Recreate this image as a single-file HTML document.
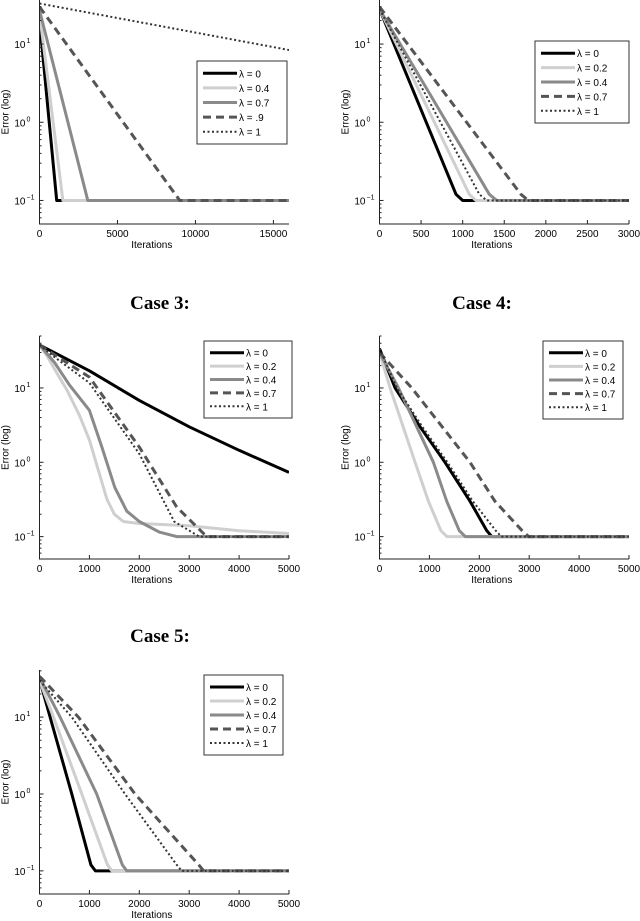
<!DOCTYPE html>
<html><head><meta charset="utf-8"><style>
body{margin:0;background:#fff;width:640px;height:921px;overflow:hidden}
svg{display:block}
text{font-family:"Liberation Sans",sans-serif;fill:#000}
.title{font-family:"Liberation Serif",serif;font-weight:bold;font-size:19px}
</style></head><body>
<svg id="chart" width="640" height="921" viewBox="0 0 640 921" xmlns="http://www.w3.org/2000/svg">
<text class="title" x="160" y="309" text-anchor="middle">Case 3:</text>
<text class="title" x="482" y="309" text-anchor="middle">Case 4:</text>
<text class="title" x="160" y="642" text-anchor="middle">Case 5:</text>
</svg>
<script>
// ---- Case 1 data ----
const c1_labels = ["λ = 0","λ = 0.4","λ = 0.7","λ = .9","λ = 1"];
const c1_x0=[0,1100,16000], c1_y0=[20,0.1,0.1];
const c1_x1=[0,1500,16000], c1_y1=[25,0.1,0.1];
const c1_x2=[0,3100,16000], c1_y2=[27,0.1,0.1];
const c1_x3=[0,9000,16000], c1_y3=[30,0.1,0.1];
const c1_x4=[0,16000], c1_y4=[33,8.4];
const c1_xticks=[0,5000,10000,15000];
// ---- Case 2 data ----
const c2_labels = ["λ = 0","λ = 0.2","λ = 0.4","λ = 0.7","λ = 1"];
const c2_x0=[0,920,1000,3000], c2_y0=[28,0.12,0.1,0.1];
const c2_x1=[0,1080,1160,3000], c2_y1=[28,0.12,0.1,0.1];
const c2_x2=[0,1320,1410,3000], c2_y2=[28,0.12,0.1,0.1];
const c2_x3=[0,1700,1790,3000], c2_y3=[30,0.12,0.1,0.1];
const c2_x4=[0,1200,1290,3000], c2_y4=[28,0.12,0.1,0.1];
const c2_xticks=[0,500,1000,1500,2000,2500,3000];
// ---- Case 3 data ----
const c3_labels = c2_labels;
const c3_x0=[0,1000,2000,3000,4000,5000], c3_y0=[38,17,6.8,3.0,1.45,0.73];
const c3_x1=[0,150,300,550,800,1000,1200,1350,1500,1680,2000,3000,4000,5000], c3_y1=[38,27,18,9.4,4.3,2.0,0.7,0.32,0.2,0.16,0.15,0.14,0.12,0.11];
const c3_x2=[0,300,600,1000,1250,1510,1750,2000,2400,2750,5000], c3_y2=[38,22,11,5.0,1.6,0.46,0.22,0.16,0.115,0.1,0.1];
const c3_x3=[0,300,1000,2000,2750,3350,5000], c3_y3=[38,28,14,1.6,0.25,0.1,0.1];
const c3_x4=[0,300,1000,2000,2700,3200,5000], c3_y4=[38,26,11.7,1.3,0.16,0.1,0.1];
const c3_xticks=[0,1000,2000,3000,4000,5000];
// ---- Case 4 data ----
const c4_labels = c2_labels;
const c4_x0=[0,313,813,1313,1813,2150,2250,5000], c4_y0=[34,10,3,1,0.3,0.12,0.1,0.1];
const c4_x1=[0,213,713,980,1230,1350,5000], c4_y1=[30,10,1,0.3,0.12,0.1,0.1];
const c4_x2=[0,380,1080,1347,1600,1720,5000], c4_y2=[30,10,1,0.3,0.12,0.1,0.1];
const c4_x3=[0,647,1813,2313,2860,2990,5000], c4_y3=[30,10,1,0.3,0.12,0.1,0.1];
const c4_x4=[0,350,860,1360,1870,2330,2440,5000], c4_y4=[34,10,3,1,0.3,0.12,0.1,0.1];
const c4_xticks=c3_xticks;
// ---- Case 5 data ----
const c5_labels = c2_labels;
const c5_x0=[0,213,647,1030,1120,5000], c5_y0=[31,10,1,0.12,0.1,0.1];
const c5_x1=[0,280,847,1360,1450,5000], c5_y1=[30,10,1,0.12,0.1,0.1];
const c5_x2=[0,413,1147,1660,1750,5000], c5_y2=[33,10,1,0.12,0.1,0.1];
const c5_x3=[0,780,1913,3190,3290,5000], c5_y3=[34,10,1,0.12,0.1,0.1];
const c5_x4=[0,647,1713,2750,2850,5000], c5_y4=[30,10,1,0.12,0.1,0.1];
const c5_xticks=c3_xticks;

const NS="http://www.w3.org/2000/svg";
const svg=document.getElementById('chart');
function mk(tag,attrs,parent){const e=document.createElementNS(NS,tag);for(const k in attrs)e.setAttribute(k,attrs[k]);(parent||svg).appendChild(e);return e;}
const styleA={stroke:"#000","stroke-width":3};
const light={stroke:"#cfcfcf","stroke-width":3};
const mid={stroke:"#8a8a8a","stroke-width":3};
const dash={stroke:"#555","stroke-width":3,"stroke-dasharray":"8,5"};
const dot={stroke:"#333","stroke-width":2,"stroke-dasharray":"2,2.5"};

function plot(id,P,xs,ys,labels,styles,xticks,xmax,leg){
  const g=mk('g',{},svg);
  
  
  const ymin=0.05,ymax=P.ymax;
  const X=v=>P.l+(v/xmax)*(P.r-P.l);
  const Y=v=>P.b-(Math.log10(v)-Math.log10(ymin))/(Math.log10(ymax)-Math.log10(ymin))*(P.b-P.t);
  const clip=mk('clipPath',{id:id+'-clip'},g);
  mk('rect',{x:P.l,y:P.t,width:P.r-P.l,height:P.b-P.t},clip);
  for(let s=0;s<xs.length;s++){
    const d=xs[s].map((x,i)=>(i?'L':'M')+X(x).toFixed(1)+' '+Y(ys[s][i]).toFixed(1)).join(' ');
    const p=mk('path',Object.assign({d:d,fill:"none","clip-path":"url(#"+id+"-clip)","stroke-linejoin":"round"},styles[s]),g);
    
    
  }
  const ax=mk('path',{d:`M${P.l} ${P.t}V${P.b}H${P.r}`,fill:"none",stroke:"#222","stroke-width":1},g);
  
  
  for(let e=-2;e<=2;e++){for(let m=1;m<=9;m++){const v=m*Math.pow(10,e);if(v<ymin||v>ymax)continue;const y=Y(v);
    mk('line',{x1:P.l,x2:P.l+(m==1?4:2),y1:y,y2:y,stroke:"#222","stroke-width":1},g);
    if(m==1){const t=mk('text',{x:P.l-14,y:y+4,"font-size":10,"text-anchor":"end"},g);t.textContent='10';
      
      
      const sp=mk('text',{x:P.l-13,y:y-1,"font-size":7},g);sp.textContent=String(e).replace('-','−');}}}
  xticks.forEach(v=>{const x=X(v);mk('line',{x1:x,x2:x,y1:P.b,y2:P.b-4,stroke:"#222","stroke-width":1},g);
    const t=mk('text',{x:x,y:P.b+13,"font-size":10,"text-anchor":"middle"},g);t.textContent=v;
    
    });
  const xl=mk('text',{x:(P.l+P.r)/2-(P.r-P.l)*0.05,y:P.b+24,"font-size":10,"text-anchor":"middle"},g);xl.textContent='Iterations';
  
  
  const yx=P.l-31,yy=(P.t+P.b)/2;
  const yl=mk('text',{x:yx,y:yy,"font-size":10,"text-anchor":"middle",transform:`rotate(-90 ${yx} ${yy})`},g);yl.textContent='Error (log)';
  
  
  const lb=mk('rect',{x:leg.x,y:leg.y,width:leg.w,height:leg.h,fill:"#fff",stroke:"#333","stroke-width":1},g);
  
  
  const step=(leg.h-10)/5;
  labels.forEach((lab,i)=>{const y=leg.y+5+step*(i+0.5);
    mk('line',Object.assign({x1:leg.x+6,x2:leg.x+40,y1:y,y2:y},styles[i]),g);
    const t=mk('text',{x:leg.x+42,y:y+4,"font-size":10},g);t.textContent=lab;
    
    });
}
const S5=[styleA,light,mid,dash,dot];
plot('case-1-plot',{l:39.5,r:289,t:0,b:224,ymax:36.6},[c1_x0,c1_x1,c1_x2,c1_x3,c1_x4],[c1_y0,c1_y1,c1_y2,c1_y3,c1_y4],c1_labels,[styleA,light,mid,dash,dot],c1_xticks,16000,{x:197,y:61,w:90,h:83});
plot('case-2-plot',{l:379.5,r:629,t:0,b:224,ymax:36.6},[c2_x0,c2_x1,c2_x2,c2_x3,c2_x4],[c2_y0,c2_y1,c2_y2,c2_y3,c2_y4],c2_labels,S5,c2_xticks,3000,{x:535,y:41,w:94,h:82});
plot('case-3-plot',{l:39.5,r:289,t:336,b:559,ymax:50},[c3_x0,c3_x1,c3_x2,c3_x3,c3_x4],[c3_y0,c3_y1,c3_y2,c3_y3,c3_y4],c3_labels,S5,c3_xticks,5000,{x:204,y:341,w:88,h:77});
plot('case-4-plot',{l:379.5,r:629,t:336,b:559,ymax:50},[c4_x0,c4_x1,c4_x2,c4_x3,c4_x4],[c4_y0,c4_y1,c4_y2,c4_y3,c4_y4],c4_labels,S5,c4_xticks,5000,{x:543,y:341,w:80,h:78});
plot('case-5-plot',{l:39.5,r:289,t:670,b:894,ymax:41},[c5_x0,c5_x1,c5_x2,c5_x3,c5_x4],[c5_y0,c5_y1,c5_y2,c5_y3,c5_y4],c5_labels,S5,c5_xticks,5000,{x:204,y:675,w:79,h:80});
</script>
</body></html>
